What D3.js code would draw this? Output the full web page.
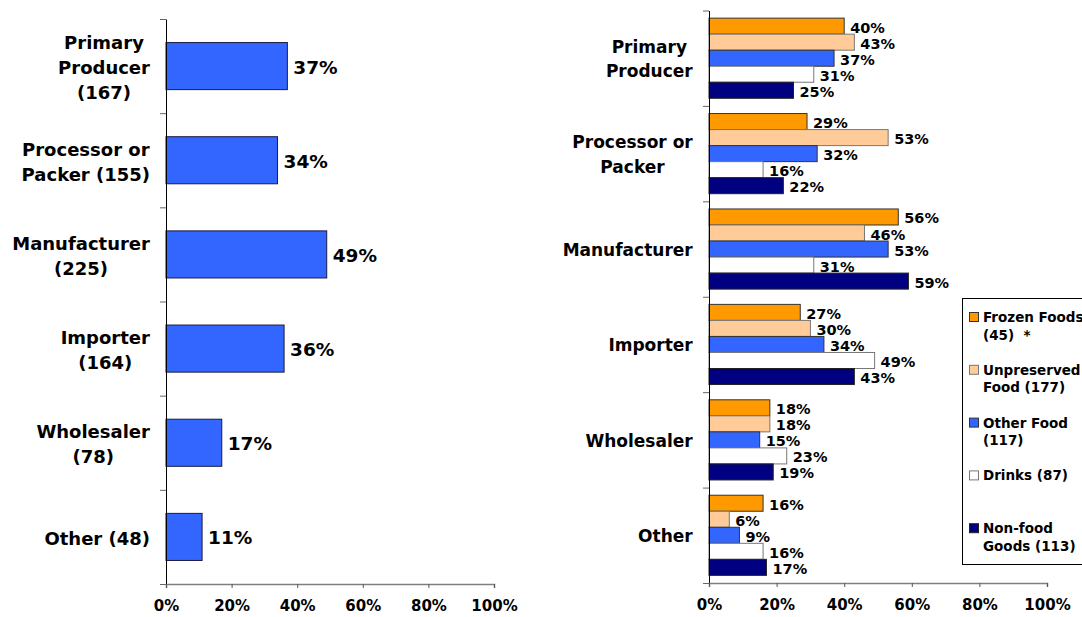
<!DOCTYPE html>
<html>
<head>
<meta charset="utf-8">
<script src="https://cdn.jsdelivr.net/npm/d3@7"></script>
<style>
  body { margin: 0; background: #fff; }
  text { font-family: "DejaVu Sans", Verdana, sans-serif; font-weight: bold; fill: #000; }
</style>
</head>
<body>
<svg id="chart" width="1082" height="617"></svg>
<script>
// left chart data
var leftCategories = ["Primary\nProducer\n(167)", "Processor or\nPacker (155)", "Manufacturer\n(225)",
    "Importer\n(164)", "Wholesaler\n(78)", "Other (48)"];
var leftValues = [37, 34, 49, 36, 17, 11];

// right chart data
var rightCategories = ["Primary\nProducer", "Processor or\nPacker", "Manufacturer", "Importer", "Wholesaler", "Other"];
var seriesNames = ["Frozen Foods\n(45)  *", "Unpreserved\nFood (177)", "Other Food\n(117)", "Drinks (87)", "Non-food\nGoods (113)"];
var frozenFoods = [40, 29, 56, 27, 18, 16];
var unpreservedFood = [43, 53, 46, 30, 18, 6];
var otherFood = [37, 32, 53, 34, 15, 9];
var drinks = [31, 16, 31, 49, 23, 16];
var nonFoodGoods = [25, 22, 59, 43, 19, 17];

var xTicks = [0, 20, 40, 60, 80, 100];

var seriesValues = [frozenFoods, unpreservedFood, otherFood, drinks, nonFoodGoods];
var seriesColors = ["#FF9900", "#FFCC99", "#3366FF", "#FFFFFF", "#000080"];
var seriesStrokes = ["#333", "#777", "#333", "#777", "#222"];

var svg = d3.select("#chart");

// draws a multi-line label, centred lines, right edge at xRight
function multiLabel(g, txt, xRight, yCenter, size, lh) {
    var lines = txt.split("\n");
    var t = g.append("text")
        .style("font-size", size + "px")
        .attr("text-anchor", "middle");
    lines.forEach(function (l, i) {
        t.append("tspan")
            .attr("x", 0)
            .attr("y", yCenter + (i - (lines.length - 1) / 2) * lh)
            .attr("dominant-baseline", "central")
            .text(l);
    });
    var w = t.node().getBBox().width;
    t.attr("transform", "translate(" + (xRight - w / 2) + ",0)");
}

function bottomAxis(x, yPos) {
    var ax = svg.append("g")
        .attr("transform", "translate(0," + yPos + ")")
        .call(d3.axisBottom(x).tickValues(xTicks).tickFormat(function (d) { return d + "%"; })
            .tickSize(4).tickSizeOuter(4).tickPadding(12));
    ax.select(".domain").attr("stroke", "#808080").attr("stroke-width", 1.5);
    ax.selectAll(".tick line").attr("stroke", "#555");
    ax.selectAll(".tick text").style("font-size", "15px").attr("fill", "#000")
        .attr("font-family", null);
}

function leftAxis(xPos, y0, y1) {
    var yt = d3.scaleLinear().domain([0, 6]).range([y0, y1]);
    var ax = svg.append("g")
        .attr("transform", "translate(" + xPos + ",0)")
        .call(d3.axisLeft(yt).ticks(6).tickFormat("").tickSize(6).tickSizeOuter(0));
    ax.select(".domain").attr("stroke", "#000");
    ax.selectAll(".tick line").attr("stroke", "#666");
}

// ---------- left chart ----------
var xL = d3.scaleLinear().domain([0, 100]).range([166, 494]);
var yL = d3.scaleBand().domain(leftCategories).range([19, 584]).paddingInner(0.5).paddingOuter(0.25);

var gL = svg.append("g");
gL.selectAll("rect.bar")
    .data(leftValues)
    .enter()
        .append("rect")
        .attr("class", "bar")
        .attr("x", xL(0))
        .attr("y", function (d, i) { return yL(leftCategories[i]); })
        .attr("width", function (d) { return xL(d) - xL(0); })
        .attr("height", yL.bandwidth())
        .attr("fill", "#3366FF")
        .attr("stroke", "#1a1a40")
        .attr("stroke-width", 1);

gL.selectAll("text.val")
    .data(leftValues)
    .enter()
        .append("text")
        .attr("class", "val")
        .attr("x", function (d) { return xL(d) + 6; })
        .attr("y", function (d, i) { return yL(leftCategories[i]) + yL.bandwidth() / 2 + 1; })
        .attr("dominant-baseline", "central")
        .style("font-size", "18.5px")
        .text(function (d) { return d + "%"; });

leftCategories.forEach(function (c) {
    multiLabel(gL, c, xL(0) - 16, yL(c) + yL.bandwidth() / 2 + 1.5, 18, 25);
});

leftAxis(xL(0), 19, 584);
bottomAxis(xL, 584);

// ---------- right chart ----------
var xR = d3.scaleLinear().domain([0, 100]).range([709, 1047]);
var yR = d3.scaleBand().domain(rightCategories).range([10.5, 583]);
var pad = yR.bandwidth() * 0.08;
var yS = d3.scaleBand().domain(seriesNames).range([pad, yR.bandwidth() - pad]);

var gR = svg.append("g");
seriesValues.forEach(function (vals, s) {
    var name = seriesNames[s];
    gR.selectAll("rect.s" + s)
        .data(vals)
        .enter()
            .append("rect")
            .attr("class", "s" + s)
            .attr("x", xR(0))
            .attr("y", function (d, i) { return yR(rightCategories[i]) + yS(name); })
            .attr("width", function (d) { return xR(d) - xR(0); })
            .attr("height", yS.bandwidth())
            .attr("fill", seriesColors[s])
            .attr("stroke", seriesStrokes[s])
            .attr("stroke-width", 1);
});

seriesValues.forEach(function (vals, s) {
    var name = seriesNames[s];
    gR.selectAll("text.v" + s)
        .data(vals)
        .enter()
            .append("text")
            .attr("class", "v" + s)
            .attr("x", function (d) { return xR(d) + 6; })
            .attr("y", function (d, i) { return yR(rightCategories[i]) + yS(name) + yS.bandwidth() / 2 + 1.5; })
            .attr("dominant-baseline", "central")
            .style("font-size", "14.5px")
            .text(function (d) { return d + "%"; });
});

rightCategories.forEach(function (c) {
    multiLabel(gR, c, xR(0) - 16, yR(c) + yR.bandwidth() / 2 + 1, 17, 24.5);
});

leftAxis(xR(0), 10.5, 583);
bottomAxis(xR, 583);

// ---------- legend ----------
var legend = svg.append("g");
legend.append("rect")
    .attr("x", 962.5).attr("y", 298.5)
    .attr("width", 140).attr("height", 266)
    .attr("fill", "#fff").attr("stroke", "#000").attr("stroke-width", 1);

seriesNames.forEach(function (name, s) {
    var yc = 317 + s * 52.8;
    legend.append("rect")
        .attr("x", 969.5).attr("y", yc - 4.5)
        .attr("width", 9).attr("height", 9)
        .attr("fill", seriesColors[s])
        .attr("stroke", seriesStrokes[s]);
    var t = legend.append("text").style("font-size", "13.5px");
    name.split("\n").forEach(function (l, i) {
        t.append("tspan")
            .attr("x", 983)
            .attr("y", yc + i * 17.5)
            .attr("dominant-baseline", "central")
            .attr("xml:space", "preserve")
            .text(l);
    });
});
</script>
</body>
</html>
